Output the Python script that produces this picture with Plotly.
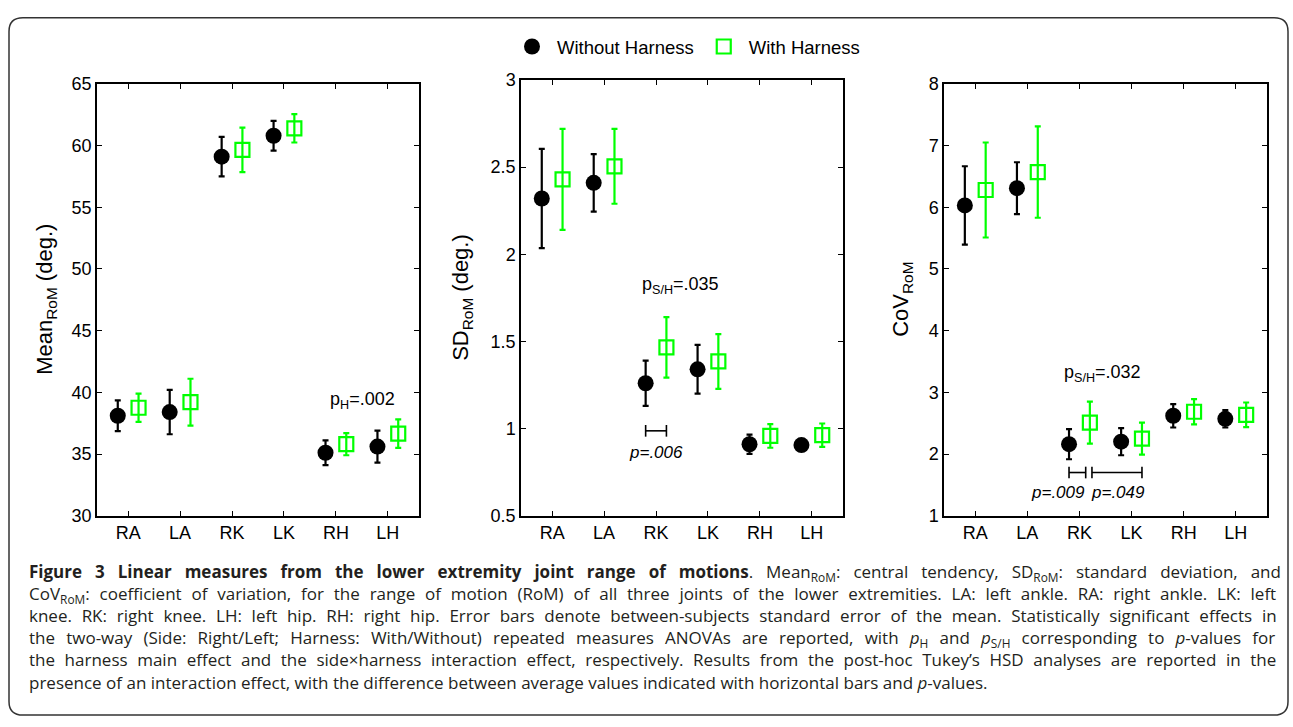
import re
import plotly.graph_objects as go

W, H = 1293, 727

categories = ["RA", "LA", "RK", "LK", "RH", "LH"]
series_names = ["Without Harness", "With Harness"]

mean_without = [38.1, 38.4, 59.1, 60.8, 35.1, 35.6]
mean_without_se = [1.25, 1.8, 1.6, 1.2, 1.0, 1.3]
mean_with = [38.75, 39.2, 59.65, 61.4, 35.8, 36.65]
mean_with_se = [1.15, 1.9, 1.8, 1.15, 0.9, 1.15]

sd_without = [2.32, 2.41, 1.26, 1.34, 0.91, 0.905]
sd_without_se = [0.285, 0.165, 0.13, 0.14, 0.055, 0.015]
sd_with = [2.43, 2.505, 1.466, 1.385, 0.958, 0.962]
sd_with_se = [0.29, 0.215, 0.174, 0.157, 0.068, 0.067]

cov_without = [6.03, 6.31, 2.16, 2.20, 2.62, 2.57]
cov_without_se = [0.635, 0.42, 0.245, 0.22, 0.19, 0.14]
cov_with = [6.28, 6.57, 2.51, 2.25, 2.685, 2.635]
cov_with_se = [0.77, 0.74, 0.34, 0.26, 0.205, 0.2]

y_titles = ["Mean<sub>RoM</sub> (deg.)", "SD<sub>RoM</sub> (deg.)", "CoV<sub>RoM</sub>"]
y_ranges = [[30, 65], [0.5, 3], [1, 8]]
y_ticks = [[30, 35, 40, 45, 50, 55, 60, 65],
           [0.5, 1, 1.5, 2, 2.5, 3],
           [1, 2, 3, 4, 5, 6, 7, 8]]
y_ticktext = [["30", "35", "40", "45", "50", "55", "60", "65"],
              ["0.5", "1", "1.5", "2", "2.5", "3"],
              ["1", "2", "3", "4", "5", "6", "7", "8"]]

# effect annotations: (panel, x index, y value, text)
effect_notes = [
    (0, 4.51, 39.36, "p<sub>H</sub>=.002"),
    (1, 2.47, 1.82, "p<sub>S/H</sub>=.035"),
    (2, 2.45, 3.30, "p<sub>S/H</sub>=.032"),
]
# post-hoc brackets: (panel, x start, x end, y value, label x, label y, label)
brackets = [
    (1, 1.8, 2.2, 0.987, 2.0, 0.862, "p=.006"),
    (2, 1.8, 2.12, 1.70, 1.59, 1.37, "p=.009"),
    (2, 2.24, 3.2, 1.70, 2.74, 1.37, "p=.049"),
]

caption_lines = [
    "<b>Figure 3 Linear measures from the lower extremity joint range of motions</b>. Mean<sub>RoM</sub>: central tendency, SD<sub>RoM</sub>: standard deviation, and",
    "CoV<sub>RoM</sub>: coefficient of variation, for the range of motion (RoM) of all three joints of the lower extremities. LA: left ankle. RA: right ankle. LK: left",
    "knee. RK: right knee. LH: left hip. RH: right hip. Error bars denote between-subjects standard error of the mean. Statistically significant effects in",
    "the two-way (Side: Right/Left; Harness: With/Without) repeated measures ANOVAs are reported, with <i>p</i><sub>H</sub> and <i>p</i><sub>S/H</sub> corresponding to <i>p</i>-values for",
    "the harness main effect and the side×harness interaction effect, respectively. Results from the post-hoc Tukey’s HSD analyses are reported in the",
    "presence of an interaction effect, with the difference between average values indicated with horizontal bars and <i>p</i>-values.",
]
caption_justify = [True, True, True, True, True, False]

data_without = [(mean_without, mean_without_se), (sd_without, sd_without_se), (cov_without, cov_without_se)]
data_with = [(mean_with, mean_with_se), (sd_with, sd_with_se), (cov_with, cov_with_se)]

# panel pixel boxes: left, right, top, bottom
panels_px = [(97, 419, 76, 520), (521, 843, 72, 520), (944, 1267, 76, 520)]
title_x_px = [46, 462, 902]

BLACK = "#000000"
GREEN = "#00FF00"
OFFSET = 0.2
FONT = "Liberation Sans"
CAP_FONT = "Open Sans"
CAP_SIZE = 17
CAP_LEFT, CAP_RIGHT = 27, 1276
CAP_TOP = 564

# approximate Open Sans advance widths (units per 2048 em) for justification
_OS = {' ': 532, '!': 547, '(': 606, ')': 606, ',': 502, '-': 659, '.': 545, '/': 752,
       ':': 545, ';': 545, '’': 453, '×': 1171,
       'A': 1296, 'B': 1327, 'C': 1292, 'D': 1493, 'E': 1139, 'F': 1057, 'G': 1491, 'H': 1511,
       'I': 571, 'J': 547, 'K': 1257, 'L': 1063, 'M': 1849, 'N': 1544, 'O': 1595, 'P': 1233,
       'Q': 1595, 'R': 1266, 'S': 1124, 'T': 1143, 'U': 1511, 'V': 1237, 'W': 1890, 'X': 1214,
       'Y': 1157, 'Z': 1149, 'a': 1149, 'b': 1255, 'c': 983, 'd': 1255, 'e': 1149, 'f': 694,
       'g': 1122, 'h': 1257, 'i': 518, 'j': 518, 'k': 1075, 'l': 518, 'm': 1905, 'n': 1257,
       'o': 1237, 'p': 1255, 'q': 1255, 'r': 836, 's': 977, 't': 723, 'u': 1257, 'v': 1026,
       'w': 1593, 'x': 1073, 'y': 1028, 'z': 977}


def est_width(markup, size):
    total = 0.0
    bold = sub = False
    for tok in re.split(r"(<[^>]+>)", markup):
        if tok.startswith("<"):
            t = tok.lower()
            if t == "<b>":
                bold = True
            elif t == "</b>":
                bold = False
            elif t == "<sub>":
                sub = True
            elif t == "</sub>":
                sub = False
            continue
        for ch in tok:
            w = _OS.get(ch, 1171) / 2048 * size
            if bold:
                w *= 1.075 if ch != ' ' else 1.0
            if sub:
                w *= 0.7
            total += w
    return total


fig = go.Figure()
idx = list(range(len(categories)))

for p in range(3):
    xa = "x" if p == 0 else f"x{p+1}"
    ya = "y" if p == 0 else f"y{p+1}"
    vals, se = data_without[p]
    fig.add_trace(go.Scatter(
        x=[i - OFFSET for i in idx], y=vals, mode="markers", xaxis=xa, yaxis=ya,
        name=series_names[0], showlegend=(p == 0), legendgroup="wo",
        marker=dict(symbol="circle", size=16, color=BLACK),
        error_y=dict(type="data", array=se, color=BLACK, thickness=2.2, width=3),
    ))
    vals, se = data_with[p]
    fig.add_trace(go.Scatter(
        x=[i + OFFSET for i in idx], y=vals, mode="markers", xaxis=xa, yaxis=ya,
        name=series_names[1], showlegend=(p == 0), legendgroup="w",
        marker=dict(symbol="square-open", size=14, color=GREEN, line=dict(width=2.2, color=GREEN)),
        error_y=dict(type="data", array=se, color=GREEN, thickness=2.2, width=3),
    ))

layout = {}
for p in range(3):
    l, r, t, b = panels_px[p]
    kx = "xaxis" if p == 0 else f"xaxis{p+1}"
    ky = "yaxis" if p == 0 else f"yaxis{p+1}"
    layout[kx] = dict(
        domain=[l / W, r / W], range=[-0.6, 5.6], anchor="y" if p == 0 else f"y{p+1}",
        tickvals=idx, ticktext=categories, ticks="inside", ticklen=5, tickwidth=1,
        tickcolor=BLACK, showline=True, linecolor=BLACK, linewidth=1.5, mirror="ticks",
        showgrid=False, zeroline=False, tickfont=dict(family=FONT, size=18, color=BLACK),
        fixedrange=True,
    )
    layout[ky] = dict(
        domain=[1 - b / H, 1 - t / H], range=y_ranges[p], anchor="x" if p == 0 else f"x{p+1}",
        tickvals=y_ticks[p], ticktext=y_ticktext[p], ticks="inside", ticklen=5, tickwidth=1,
        tickcolor=BLACK, showline=True, linecolor=BLACK, linewidth=1.5, mirror="ticks",
        showgrid=False, zeroline=False, tickfont=dict(family=FONT, size=18, color=BLACK),
        fixedrange=True,
    )

annotations = []
for p in range(3):
    l, r, t, b = panels_px[p]
    annotations.append(dict(
        xref="paper", yref="paper", x=title_x_px[p] / W, y=1 - (t + b) / 2 / H,
        text=y_titles[p], textangle=-90, showarrow=False, xanchor="center", yanchor="middle",
        font=dict(family=FONT, size=22, color=BLACK),
    ))

for p, xi, yv, txt in effect_notes:
    xr = "x" if p == 0 else f"x{p+1}"
    yr = "y" if p == 0 else f"y{p+1}"
    annotations.append(dict(xref=xr, yref=yr, x=xi, y=yv, text=txt, showarrow=False,
                            xanchor="center", yanchor="middle",
                            font=dict(family=FONT, size=18, color=BLACK)))

for p, x0, x1, yv, lx, ly, txt in brackets:
    xr = "x" if p == 0 else f"x{p+1}"
    yr = "y" if p == 0 else f"y{p+1}"
    l, r, t, b = panels_px[p]
    d = 6 * (y_ranges[p][1] - y_ranges[p][0]) / (b - t)
    fig.add_trace(go.Scatter(
        x=[x0, x0, None, x0, x1, None, x1, x1],
        y=[yv - d, yv + d, None, yv, yv, None, yv - d, yv + d],
        mode="lines", line=dict(color=BLACK, width=1.6), showlegend=False,
        hoverinfo="skip", xaxis=xr, yaxis=yr,
    ))
    annotations.append(dict(xref=xr, yref=yr, x=lx, y=ly, text=f"<i>{txt}</i>", showarrow=False,
                            xanchor="center", yanchor="middle",
                            font=dict(family=FONT, size=17, color=BLACK)))

# caption: one multi-line annotation, each line justified via word-spacing
cap_parts = []
for line, just in zip(caption_lines, caption_justify):
    if just:
        n_sp = line.count(" ") - sum(tag.count(" ") for tag in re.findall(r"<[^>]+>", line))
        extra = (CAP_RIGHT - CAP_LEFT) - est_width(line, CAP_SIZE)
        ws = max(extra / max(n_sp, 1), -1.0)
        cap_parts.append(f'<span style="word-spacing:{ws:.2f}px">{line}</span>')
    else:
        cap_parts.append(line)
annotations.append(dict(
    xref="paper", yref="paper", x=CAP_LEFT / W, y=1 - CAP_TOP / H, text="<br>".join(cap_parts),
    showarrow=False, xanchor="left", yanchor="top", align="left",
    font=dict(family=CAP_FONT, size=CAP_SIZE, color="#231f20"),
))

# rounded border
x0b, x1b, y0b, y1b = 9 / W, 1288 / W, 1 - 725 / H, 1 - 8 / H
rx, ry = 14 / W, 14 / H
path = (f"M {x0b + rx},{y1b} L {x1b - rx},{y1b} Q {x1b},{y1b} {x1b},{y1b - ry} "
        f"L {x1b},{y0b + ry} Q {x1b},{y0b} {x1b - rx},{y0b} "
        f"L {x0b + rx},{y0b} Q {x0b},{y0b} {x0b},{y0b + ry} "
        f"L {x0b},{y1b - ry} Q {x0b},{y1b} {x0b + rx},{y1b} Z")

fig.update_layout(
    **layout,
    annotations=annotations,
    shapes=[dict(type="path", xref="paper", yref="paper", path=path,
                 line=dict(color="#333333", width=1.5))],
    width=W, height=H, margin=dict(l=0, r=0, t=0, b=0),
    paper_bgcolor="white", plot_bgcolor="white",
    showlegend=True,
    legend=dict(orientation="h", x=686 / W, xanchor="center", y=1 - 38 / H, yanchor="middle",
                font=dict(family=FONT, size=18.5, color=BLACK), bgcolor="rgba(0,0,0,0)",
                itemwidth=40),
    font=dict(family=FONT, color=BLACK),
)

fig.write_html("out.html", config={"displayModeBar": False},
               post_script="document.body.style.margin='0px';")
